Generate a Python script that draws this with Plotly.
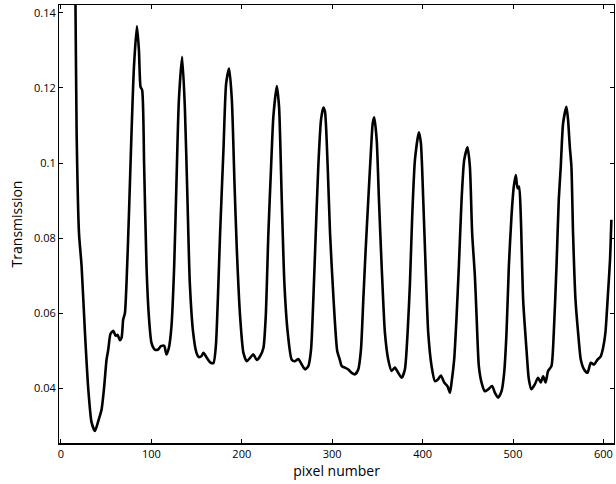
import plotly.graph_objects as go

# Transmission spectrum across the detector row
pixel = [
    14, 16, 17.3, 19.9, 22.8, 26.5, 30.2, 33.8, 37.6, 41.2, 44.9, 47.5, 50.4, 52.3,
    54.8, 57.9, 60.4, 62.6, 65.2, 67.0, 68.8, 70.7, 72.5, 75.1, 78.0, 80.7, 84.0,
    86.2, 88.0, 89.8, 92.0, 94.6, 97.2, 100.1, 103.8, 107.5, 110.5, 114.1, 116.7,
    119.3, 122.2, 125.2, 127.7, 130.4, 134.0, 137.0, 139.9, 142.5, 146.2, 149.8,
    152.5, 155.5, 157.6, 161.3, 165.0, 168.6, 171.3, 173.5, 176.0, 179.7, 182.7,
    186.0, 189.0, 191.9, 194.5, 198.1, 201.8, 205.5, 209.2, 212.8, 216.6, 220.2,
    223.9, 226.5, 229.4, 232.4, 234.9, 238.7, 241.2, 244.2, 247.1, 250.8, 255.2,
    258.9, 262.6, 266.3, 270.0, 273.6, 276.6, 279.1, 281.8, 284.6, 287.6, 290.2,
    292.0, 295.0, 297.6, 301.5, 305.5, 308.5, 310.5, 314.1, 317.8, 321.5, 325.2,
    328.8, 331.8, 334.4, 337.0, 339.9, 342.9, 344.8, 346.5, 349.2, 351.7, 354.7,
    358.3, 362.0, 365.7, 369.4, 373.0, 376.8, 380.4, 383.4, 386.0, 388.5, 391.5,
    395.9, 398.1, 400.7, 403.3, 406.2, 409.9, 413.6, 417.2, 420.2, 423.9, 427.6,
    430.2, 432.0, 434.9, 437.6, 440.1, 443.1, 446.0, 449.7, 452.3, 454.8, 457.8,
    459.7, 462.2, 465.2, 468.8, 472.5, 476.9, 479.9, 483.5, 487.3, 490.2, 492.8,
    495.4, 498.3, 500.9, 503.1, 505.0, 506.7, 508.6, 511.2, 514.9, 517.5, 520.4,
    524.1, 527.7, 530.7, 533.3, 536.0, 538.8, 542.5, 545.1, 548.1, 550.6, 552.8,
    555.4, 559.1, 560.9, 562.8, 564.6, 566.4, 569.1, 572.0, 575.0, 578.6, 582.4,
    586.0, 589.6, 593.4, 597.0, 599.6, 602.2, 605.1, 607.3, 608.8,
]
transmission = [
    0.175, 0.143, 0.108, 0.0814, 0.0725, 0.0548, 0.0397, 0.0309, 0.0286, 0.0312,
    0.0343, 0.0397, 0.0476, 0.0503, 0.0545, 0.0553, 0.0540, 0.0542, 0.0528,
    0.0534, 0.0583, 0.0600, 0.0681, 0.0858, 0.1080, 0.1256, 0.1365, 0.1301,
    0.1203, 0.1194, 0.0990, 0.0725, 0.0592, 0.0521, 0.0503, 0.0503, 0.0512,
    0.0513, 0.0490, 0.0507, 0.0565, 0.0725, 0.0946, 0.1168, 0.1283, 0.1150,
    0.0902, 0.0680, 0.0548, 0.0495, 0.0483, 0.0486, 0.0494, 0.0481, 0.0469,
    0.0467, 0.0512, 0.0636, 0.0813, 0.1035, 0.1212, 0.1252, 0.1168, 0.0947,
    0.0769, 0.0592, 0.0494, 0.0472, 0.0481, 0.0490, 0.0475, 0.0485, 0.0507,
    0.0592, 0.0813, 0.0990, 0.1123, 0.1205, 0.1150, 0.0902, 0.0680, 0.0548,
    0.0476, 0.0472, 0.0478, 0.0463, 0.0450, 0.0459, 0.0503, 0.0636, 0.0813,
    0.0990, 0.1115, 0.1148, 0.1137, 0.0990, 0.0813, 0.0636, 0.0500, 0.0475,
    0.0459, 0.0455, 0.0450, 0.0441, 0.0437, 0.0450, 0.0503, 0.0636, 0.0769,
    0.0902, 0.1035, 0.1106, 0.1122, 0.1062, 0.0902, 0.0725, 0.0548, 0.0476,
    0.0446, 0.0455, 0.0441, 0.0428, 0.0450, 0.0548, 0.0680, 0.0858, 0.1008,
    0.1082, 0.1053, 0.0902, 0.0725, 0.0548, 0.0459, 0.0419, 0.0424, 0.0434,
    0.0415, 0.0405, 0.0388, 0.0415, 0.0476, 0.0592, 0.0725, 0.0902, 0.1008,
    0.1042, 0.0990, 0.0813, 0.0700, 0.0592, 0.0459, 0.0415, 0.0392, 0.0397,
    0.0406, 0.0388, 0.0375, 0.0392, 0.0441, 0.0548, 0.0725, 0.0858, 0.0938,
    0.0968, 0.0933, 0.0937, 0.0858, 0.0636, 0.0503, 0.0424, 0.0397, 0.0410,
    0.0428, 0.0415, 0.0432, 0.0415, 0.0446, 0.0459, 0.0548, 0.0725, 0.0902,
    0.0990, 0.1106, 0.1150, 0.1115, 0.1044, 0.0990, 0.0813, 0.0636, 0.0548,
    0.0476, 0.0450, 0.0441, 0.0468, 0.0463, 0.0476, 0.0485, 0.0507, 0.0548,
    0.0654, 0.0742, 0.0849,
]

x_ticks = [0, 100, 200, 300, 400, 500, 600]
y_ticks = [0.04, 0.06, 0.08, 0.1, 0.12, 0.14]
y_tick_text = ["0.04", "0.06", "0.08", "0.1", "0.12", "0.14"]

font_family = "Open Sans, Lato, sans-serif"

fig = go.Figure()
fig.add_trace(go.Scatter(
    x=pixel, y=transmission, mode="lines",
    line=dict(color="black", width=2.6, shape="spline", smoothing=0.6),
    showlegend=False,
))

fig.update_layout(
    width=616, height=484,
    margin=dict(l=59, r=2, t=5, b=41),
    paper_bgcolor="white", plot_bgcolor="white",
    font=dict(family=font_family, color="black", size=11),
    xaxis=dict(
        range=[-2.2, 611.7], tickvals=x_ticks,
        ticks="inside", ticklen=4, tickwidth=1, tickcolor="black",
        showline=True, linecolor="black", linewidth=2, mirror=False,
        showgrid=False, zeroline=False,
        title=dict(text="pixel number", font=dict(size=14), standoff=4),
    ),
    yaxis=dict(
        range=[0.0254, 0.1421], tickvals=y_ticks, ticktext=y_tick_text,
        ticks="inside", ticklen=4, tickwidth=1, tickcolor="black",
        showline=True, linecolor="black", linewidth=1, mirror=False,
        showgrid=False, zeroline=False,
        title=dict(text="Transmission", font=dict(size=14), standoff=8),
    ),
    # mirrored tick marks on the top and right edges
    xaxis2=dict(
        overlaying="x", side="top", range=[-2.2, 611.7], tickvals=x_ticks,
        ticks="inside", ticklen=4, tickwidth=1, tickcolor="black",
        showticklabels=False, showline=True, linecolor="black", linewidth=1,
        showgrid=False, zeroline=False,
    ),
    yaxis2=dict(
        overlaying="y", side="right", range=[0.0254, 0.1421], tickvals=y_ticks,
        ticks="inside", ticklen=4, tickwidth=1, tickcolor="black",
        showticklabels=False, showline=True, linecolor="black", linewidth=1,
        showgrid=False, zeroline=False,
    ),
)

# invisible trace to activate the mirrored axes
fig.add_trace(go.Scatter(
    x=[pixel[0]], y=[transmission[0]], xaxis="x2", yaxis="y2",
    mode="markers", marker=dict(opacity=0), showlegend=False, hoverinfo="skip",
))

fig.write_html("out.html")
